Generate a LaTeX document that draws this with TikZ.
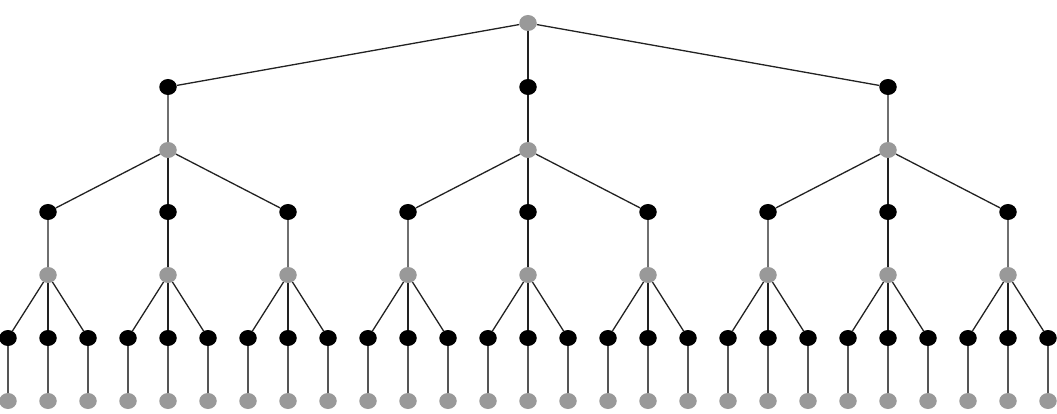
\documentclass[tikz,border=0pt]{standalone}
\usetikzlibrary{shapes.geometric}
\begin{document}
\begin{tikzpicture}[x=1pt,y=-1pt,
  gnode/.style={ellipse,fill={rgb,255:red,153;green,153;blue,153},draw=none,minimum width=17.5pt,minimum height=16pt,inner sep=0pt},
  bnode/.style={ellipse,fill=black,draw=none,minimum width=17.5pt,minimum height=16pt,inner sep=0pt},
  edge/.style={draw={rgb,255:red,34;green,34;blue,34},line width=1.3pt},
  leafedge/.style={draw={rgb,255:red,85;green,85;blue,85},line width=1.4pt}]
\useasboundingbox (0,0) rectangle (1057,414);
\node[gnode] (r) at (528,23) {};
\foreach \i/\x in {1/168,2/528,3/888}{
  \node[bnode] (a\i) at (\x,87) {};
  \node[gnode] (b\i) at (\x,150) {};
  \foreach \j/\dx in {1/-120,2/0,3/120}{
    \node[bnode] (c\i\j) at (\x+\dx,212) {};
    \node[gnode] (d\i\j) at (\x+\dx,275) {};
    \foreach \k/\ex in {1/-40,2/0,3/40}{
      \node[bnode] (e\i\j\k) at (\x+\dx+\ex,338) {};
      \node[gnode] (f\i\j\k) at (\x+\dx+\ex,401) {};
    }
  }
}
\foreach \i in {1,2,3}{
  \path[edge] (r) -- (a\i) (a\i) -- (b\i);
  \foreach \j in {1,2,3}{
    \path[edge] (b\i) -- (c\i\j) (c\i\j) -- (d\i\j);
    \foreach \k in {1,2,3}{
      \path[edge] (d\i\j) -- (e\i\j\k);
      \path[leafedge] (e\i\j\k) -- (f\i\j\k);
    }
  }
}
\end{tikzpicture}
\end{document}
